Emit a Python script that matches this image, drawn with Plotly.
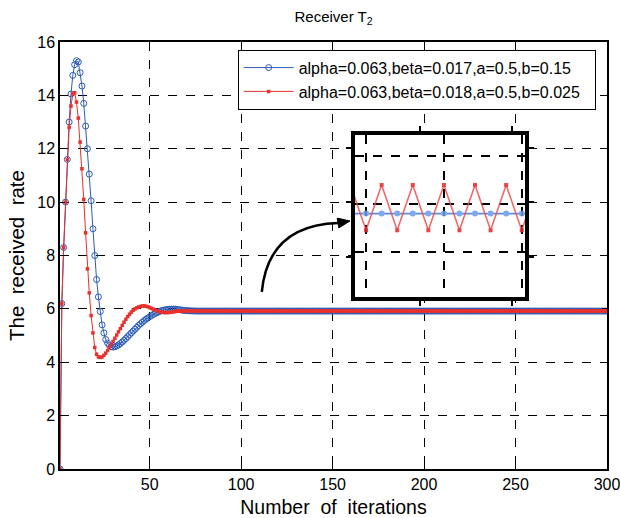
import plotly.graph_objects as go

# ---------------- data ----------------
iterations = list(range(1, 301))

blue_rate = [
    0.0, 6.2, 8.3, 10.0, 11.6, 13.0, 14.05, 14.75, 15.15, 15.3,
    15.25, 14.85, 14.35, 13.7, 12.85, 12.0, 11.05, 10.05, 9.0, 8.0,
    7.1, 6.45, 5.9, 5.4, 5.1, 4.85, 4.72, 4.63, 4.58, 4.57,
    4.58, 4.61, 4.65, 4.7, 4.76, 4.82, 4.89, 4.96, 5.03, 5.1,
    5.17, 5.24, 5.31, 5.38, 5.44, 5.5, 5.56, 5.61, 5.66, 5.71,
    5.75, 5.79, 5.83, 5.86, 5.89, 5.92, 5.94, 5.96, 5.97, 5.98,
    5.99, 5.99, 5.99, 5.99, 5.98, 5.97, 5.96, 5.95, 5.94, 5.935,
    5.93, 5.927, 5.924, 5.922, 5.92, 5.919, 5.918, 5.918, 5.918, 5.918,
    5.918, 5.918, 5.918, 5.918, 5.918, 5.918, 5.918, 5.918, 5.918, 5.918,
    5.918, 5.918, 5.918, 5.918, 5.918, 5.918, 5.918, 5.918, 5.918, 5.918,
    5.918, 5.918, 5.918, 5.918, 5.918, 5.918, 5.918, 5.918, 5.918, 5.918,
    5.918, 5.918, 5.918, 5.918, 5.918, 5.918, 5.918, 5.918, 5.918, 5.918,
    5.918, 5.918, 5.918, 5.918, 5.918, 5.918, 5.918, 5.918, 5.918, 5.918,
    5.918, 5.918, 5.918, 5.918, 5.918, 5.918, 5.918, 5.918, 5.918, 5.918,
    5.918, 5.918, 5.918, 5.918, 5.918, 5.918, 5.918, 5.918, 5.918, 5.918,
    5.918, 5.918, 5.918, 5.918, 5.918, 5.918, 5.918, 5.918, 5.918, 5.918,
    5.918, 5.918, 5.918, 5.918, 5.918, 5.918, 5.918, 5.918, 5.918, 5.918,
    5.918, 5.918, 5.918, 5.918, 5.918, 5.918, 5.918, 5.918, 5.918, 5.918,
    5.918, 5.918, 5.918, 5.918, 5.918, 5.918, 5.918, 5.918, 5.918, 5.918,
    5.918, 5.918, 5.918, 5.918, 5.918, 5.918, 5.918, 5.918, 5.918, 5.918,
    5.918, 5.918, 5.918, 5.918, 5.918, 5.918, 5.918, 5.918, 5.918, 5.918,
    5.918, 5.918, 5.918, 5.918, 5.918, 5.918, 5.918, 5.918, 5.918, 5.918,
    5.918, 5.918, 5.918, 5.918, 5.918, 5.918, 5.918, 5.918, 5.918, 5.918,
    5.918, 5.918, 5.918, 5.918, 5.918, 5.918, 5.918, 5.918, 5.918, 5.918,
    5.918, 5.918, 5.918, 5.918, 5.918, 5.918, 5.918, 5.918, 5.918, 5.918,
    5.918, 5.918, 5.918, 5.918, 5.918, 5.918, 5.918, 5.918, 5.918, 5.918,
    5.918, 5.918, 5.918, 5.918, 5.918, 5.918, 5.918, 5.918, 5.918, 5.918,
    5.918, 5.918, 5.918, 5.918, 5.918, 5.918, 5.918, 5.918, 5.918, 5.918,
    5.918, 5.918, 5.918, 5.918, 5.918, 5.918, 5.918, 5.918, 5.918, 5.918,
    5.918, 5.918, 5.918, 5.918, 5.918, 5.918, 5.918, 5.918, 5.918, 5.918,
]

red_rate = [
    0.0, 6.2, 8.3, 10.0, 11.6, 12.8, 13.6, 14.05, 14.1, 13.75,
    13.15, 12.25, 11.25, 10.1, 8.85, 7.5, 6.6, 5.75, 5.1, 4.55,
    4.3, 4.2, 4.18, 4.2, 4.26, 4.34, 4.44, 4.55, 4.66, 4.78,
    4.9, 5.02, 5.14, 5.26, 5.38, 5.5, 5.61, 5.71, 5.8, 5.88,
    5.95, 6.0, 6.04, 6.07, 6.09, 6.11, 6.11, 6.1, 6.08, 6.05,
    6.02, 5.99, 5.96, 5.93, 5.9, 5.88, 5.87, 5.86, 5.86, 5.86,
    5.87, 5.88, 5.89, 5.9, 5.92,
    5.9145, 5.924, 5.9145, 5.924, 5.9145, 5.924, 5.9145, 5.924, 5.9145, 5.924,
    5.9145, 5.924, 5.9145, 5.924, 5.9145, 5.924, 5.9145, 5.924, 5.9145, 5.924,
    5.9145, 5.924, 5.9145, 5.924, 5.9145, 5.924, 5.9145, 5.924, 5.9145, 5.924,
    5.9145, 5.924, 5.9145, 5.924, 5.9145, 5.924, 5.9145, 5.924, 5.9145, 5.924,
    5.9145, 5.924, 5.9145, 5.924, 5.9145, 5.924, 5.9145, 5.924, 5.9145, 5.924,
    5.9145, 5.924, 5.9145, 5.924, 5.9145, 5.924, 5.9145, 5.924, 5.9145, 5.924,
    5.9145, 5.924, 5.9145, 5.924, 5.9145, 5.924, 5.9145, 5.924, 5.9145, 5.924,
    5.9145, 5.924, 5.9145, 5.924, 5.9145, 5.924, 5.9145, 5.924, 5.9145, 5.924,
    5.9145, 5.924, 5.9145, 5.924, 5.9145, 5.924, 5.9145, 5.924, 5.9145, 5.924,
    5.9145, 5.924, 5.9145, 5.924, 5.9145, 5.924, 5.9145, 5.924, 5.9145, 5.924,
    5.9145, 5.924, 5.9145, 5.924, 5.9145, 5.924, 5.9145, 5.924, 5.9145, 5.924,
    5.9145, 5.924, 5.9145, 5.924, 5.9145, 5.924, 5.9145, 5.924, 5.9145, 5.924,
    5.9145, 5.924, 5.9145, 5.924, 5.9145, 5.924, 5.9145, 5.924, 5.9145, 5.924,
    5.9145, 5.924, 5.9145, 5.924, 5.9145, 5.924, 5.9145, 5.924, 5.9145, 5.924,
    5.9145, 5.924, 5.9145, 5.924, 5.9145, 5.924, 5.9145, 5.924, 5.9145, 5.924,
    5.9145, 5.924, 5.9145, 5.924, 5.9145, 5.924, 5.9145, 5.924, 5.9145, 5.924,
    5.9145, 5.924, 5.9145, 5.924, 5.9145, 5.924, 5.9145, 5.924, 5.9145, 5.924,
    5.9145, 5.924, 5.9145, 5.924, 5.9145, 5.924, 5.9145, 5.924, 5.9145, 5.924,
    5.9145, 5.924, 5.9145, 5.924, 5.9145, 5.924, 5.9145, 5.924, 5.9145, 5.924,
    5.9145, 5.924, 5.9145, 5.924, 5.9145, 5.924, 5.9145, 5.924, 5.9145, 5.924,
    5.9145, 5.924, 5.9145, 5.924, 5.9145, 5.924, 5.9145, 5.924, 5.9145, 5.924,
    5.9145, 5.924, 5.9145, 5.924, 5.9145, 5.924, 5.9145, 5.924, 5.9145, 5.924,
    5.9145, 5.924, 5.9145, 5.924, 5.9145, 5.924, 5.9145, 5.924, 5.9145, 5.924,
    5.9145, 5.924, 5.9145, 5.924, 5.9145,
]

blue_label = "alpha=0.063,beta=0.017,a=0.5,b=0.15"
red_label = "alpha=0.063,beta=0.018,a=0.5,b=0.025"
x_tick_vals = [50, 100, 150, 200, 250, 300]
y_tick_vals = [0, 2, 4, 6, 8, 10, 12, 14, 16]

# zoomed window shown in the inset
inset_first, inset_last = 248, 262
inset_grid_x = [250, 255, 260]
inset_grid_y = [5.91, 5.92, 5.93]
inset_tick_x = [253.46, 259.35]
inset_tick_y = [5.909, 5.9205, 5.9318]

# ---------------- style ----------------
FONT = "Liberation Sans, Arial, Helvetica, sans-serif"
BLUE = "#2c5cb8"
RED = "#e8302c"
NB = "\u00a0"

fig = go.Figure()

fig.add_trace(go.Scatter(
    x=iterations, y=blue_rate, name=blue_label + NB * 2, mode="lines+markers",
    line=dict(color=BLUE, width=1),
    marker=dict(symbol="circle-open", size=6, color=BLUE, line=dict(width=1, color=BLUE)),
))
fig.add_trace(go.Scatter(
    x=iterations, y=red_rate, name=red_label + NB * 2, mode="lines+markers",
    line=dict(color=RED, width=1),
    marker=dict(symbol="square", size=3.5, color=RED),
))

i0, i1 = inset_first - 1, inset_last
fig.add_trace(go.Scatter(
    x=iterations[i0:i1], y=blue_rate[i0:i1], xaxis="x2", yaxis="y2",
    mode="lines+markers", showlegend=False, opacity=0.85,
    line=dict(color="#3f78d8", width=1.6),
    marker=dict(symbol="circle", size=6, color="#6b9be8"),
))
fig.add_trace(go.Scatter(
    x=iterations[i0:i1], y=red_rate[i0:i1], xaxis="x2", yaxis="y2",
    mode="lines+markers", showlegend=False, opacity=0.85,
    line=dict(color="#f05050", width=1.6),
    marker=dict(symbol="square", size=4, color="#e02828"),
))

main_axis = dict(
    showgrid=True, gridcolor="black", griddash="dash", gridwidth=1,
    showline=True, linecolor="black", linewidth=1.5, mirror="ticks",
    ticks="inside", ticklen=5, tickcolor="black", automargin=False,
    ticklabeloverflow="allow",
    zeroline=False, tickfont=dict(size=16, color="black", family=FONT),
)

fig.update_layout(
    width=620, height=518,
    margin=dict(l=60, r=13, t=42, b=49),
    paper_bgcolor="white", plot_bgcolor="white",
    font=dict(family=FONT, color="black"),
    title=dict(text="Receiver T<sub>2</sub>", x=0.5, xref="paper", xanchor="center",
               y=1 - 17 / 518, yref="container", yanchor="middle",
               font=dict(size=15, color="black", family=FONT)),
    xaxis=dict(main_axis, range=[1, 300], tickvals=x_tick_vals, domain=[0, 1],
               title=dict(text=f"Number{NB} of{NB} iterations", font=dict(size=19.5), standoff=8)),
    yaxis=dict(main_axis, range=[0, 16], tickvals=y_tick_vals, domain=[0, 1],
               title=dict(text=f"The{NB} received{NB} rate", font=dict(size=20.5), standoff=7)),
    xaxis2=dict(domain=[0.5393, 0.8501], anchor="y2", range=[249.29, 260.21],
                tickvals=inset_tick_x, ticks="outside", ticklen=5, tickwidth=1.5,
                tickcolor="black", showticklabels=False, showgrid=False, zeroline=False,
                showline=True, linewidth=3.5, linecolor="black", mirror="ticks",
                minor=dict(tickmode="array", tickvals=inset_grid_x, showgrid=True,
                           gridcolor="black", griddash="dash", gridwidth=1.5, ticks="")),
    yaxis2=dict(domain=[0.4028, 0.7822], anchor="x2", range=[5.9005, 5.9345],
                tickvals=inset_tick_y, ticks="outside", ticklen=5, tickwidth=1.5,
                tickcolor="black", showticklabels=False, showgrid=False, zeroline=False,
                showline=True, linewidth=3.5, linecolor="black", mirror="ticks",
                minor=dict(tickmode="array", tickvals=inset_grid_y, showgrid=True,
                           gridcolor="black", griddash="dash", gridwidth=1.5, ticks="")),
    legend=dict(x=0.3248, y=0.982, xanchor="left", yanchor="top",
                bgcolor="white", bordercolor="black", borderwidth=1,
                itemwidth=50,
                font=dict(size=16, color="black", family=FONT), tracegroupgap=0),
    showlegend=True,
)

# curved pointer towards the inset (curve + filled arrow head)
fig.add_shape(type="path", xref="x", yref="y",
              path="M 111.3,6.64 Q 114.9,9.14 153.0,9.22",
              line=dict(color="black", width=2.5), layer="above")
fig.add_shape(type="path", xref="x", yref="y",
              path="M 159.5,9.293 L 153.4,9.034 L 152.5,9.401 Z",
              line=dict(color="black", width=1), fillcolor="black", layer="above")

fig.write_html("out.html")
